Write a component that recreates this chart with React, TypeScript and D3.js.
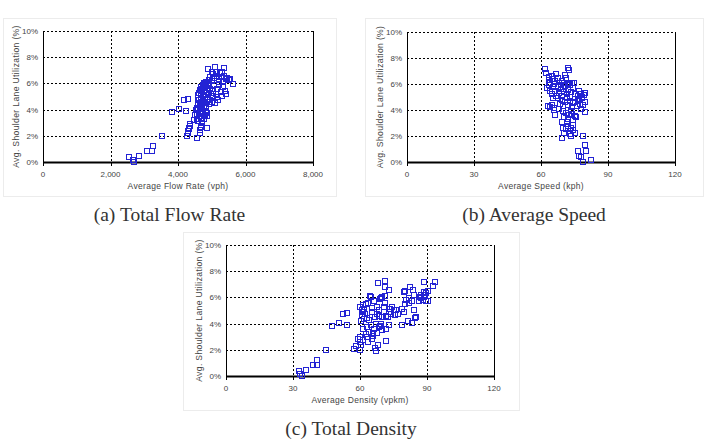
import { useEffect, useRef } from 'react';
import * as d3 from 'd3';

// [average flow rate (vph), shoulder lane utilization (%)]
const flowPoints: [number, number][] = [
  [2554, 0.38], [2673, 0.13], [2703, 0.02], [2851, 0.43], [3079, 0.81], [3218, 0.81], [3257, 1.25],
  [3535, 1.98], [3822, 3.8], [4020, 4.02], [4178, 4.72], [4287, 4.8], [4248, 3.9],
  [4277, 1.98], [4290, 2.2], [4307, 2.35], [4320, 2.5], [4337, 2.62], [4366, 2.88], [4350, 2.75],
  [4574, 1.86], [4653, 2.2], [4683, 2.7], [4660, 2.45], [4851, 2.6], [4700, 2.95], [4460, 3.2],
  [4500, 3.55], [4530, 3.95], [4560, 3.3], [4600, 3.15], [4620, 3.5], [4650, 3.8], [4680, 3.35],
  [4700, 3.65], [4730, 3.9], [4760, 3.25], [4790, 3.6], [4820, 3.85], [4850, 3.5], [4870, 3.75],
  [4600, 3.95], [4560, 3.7], [4720, 3.1],
  [4560, 4.15], [4590, 4.4], [4620, 4.7], [4650, 4.25], [4670, 4.55], [4690, 4.9], [4720, 4.35],
  [4740, 4.65], [4770, 4.1], [4790, 4.5], [4810, 4.8], [4840, 4.3], [4870, 4.6], [4900, 4.95],
  [4930, 4.4], [4960, 4.7], [5000, 4.55], [5050, 4.85], [5099, 4.5], [5198, 4.75], [5150, 4.95],
  [4600, 4.85], [4680, 4.05],
  [4600, 5.1], [4630, 5.3], [4650, 5.5], [4670, 5.75], [4690, 5.2], [4710, 5.45], [4730, 5.9],
  [4750, 5.05], [4770, 5.35], [4790, 5.65], [4810, 5.95], [4830, 5.15], [4860, 5.5], [4880, 5.8],
  [4920, 5.25], [4960, 5.6], [5000, 5.05], [5040, 5.4], [5080, 5.85], [5120, 5.2], [5170, 5.55],
  [5210, 5.9], [5260, 5.35], [5300, 5.05], [5340, 5.7], [5380, 5.45], [5420, 5.2], [4700, 5.6],
  [4760, 5.8],
  [4760, 6.05], [4800, 6.0], [4840, 6.1], [4880, 6.0], [4920, 6.25], [4960, 6.5], [5000, 6.15],
  [5040, 6.75], [5080, 6.4], [5120, 6.9], [5160, 6.6], [5200, 6.3], [5240, 6.8], [5280, 6.5],
  [5330, 6.2], [5370, 6.55], [5410, 6.35], [5450, 6.45], [5500, 6.25], [5545, 6.3], [5644, 5.92],
  [5099, 7.22], [5366, 7.17], [4901, 7.07], [5000, 6.85], [5300, 6.9], [5200, 6.1],
];

// [average speed (kph), shoulder lane utilization (%)]
const speedPoints: [number, number][] = [
  [77.7, 0.38], [82.6, 0.13], [79.0, 0.03], [76.8, 0.45], [76.6, 0.82], [80.2, 0.84], [79.8, 1.27],
  [79.0, 2.0], [69.6, 1.87], [73.5, 2.02], [75.3, 2.2],
  [70.3, 2.25], [71.2, 2.55], [72.0, 2.8], [72.8, 2.35], [73.6, 2.65], [74.4, 2.45], [70.0, 2.65],
  [71.8, 2.95], [73.0, 2.15], [74.2, 2.85],
  [69.5, 3.1], [70.5, 3.45], [71.2, 3.8], [72.0, 3.3], [72.6, 3.6], [73.4, 3.95], [74.2, 3.2],
  [75.0, 3.55], [75.8, 3.45], [71.5, 3.05], [73.8, 3.7], [79.5, 3.86], [65.6, 4.0], [66.3, 3.62],
  [69.8, 3.95],
  [63.1, 4.3], [64.1, 4.2], [64.9, 4.4], [66.0, 4.15], [67.5, 4.9], [68.5, 4.5], [69.2, 4.75],
  [70.0, 4.3], [70.8, 4.6], [71.5, 4.95], [72.2, 4.4], [73.0, 4.7], [73.8, 4.25], [74.5, 4.55],
  [75.3, 4.6], [76.0, 4.3], [76.8, 4.75], [77.5, 4.5], [78.2, 4.9], [79.0, 4.35], [79.5, 4.65],
  [78.0, 4.1], [68.0, 4.05], [65.2, 4.9],
  [62.6, 5.7], [63.5, 5.9], [64.2, 5.5], [64.8, 5.2], [65.5, 5.8], [66.2, 5.45], [66.8, 5.1],
  [67.4, 5.75], [68.2, 5.3], [69.0, 5.6], [69.6, 5.05], [70.2, 5.4], [70.9, 5.85], [71.6, 5.2],
  [72.2, 5.55], [72.9, 5.0], [73.6, 5.35], [74.2, 5.7], [75.0, 5.2], [76.5, 5.05], [77.1, 5.47],
  [77.8, 5.2], [78.5, 5.0], [79.3, 5.15], [79.8, 5.27], [68.8, 5.95], [73.2, 5.9],
  [61.9, 7.19], [62.3, 6.85], [63.4, 6.3], [64.2, 6.1], [64.8, 6.4], [65.6, 6.0], [66.2, 6.25],
  [66.9, 6.8], [67.5, 6.5], [65.0, 6.6], [71.9, 7.24], [72.6, 7.06], [70.5, 6.05], [71.4, 6.45],
  [72.3, 6.0], [73.0, 6.1], [73.8, 6.05], [74.6, 6.1], [69.6, 6.2], [70.8, 6.7], [63.8, 6.55],
];

// [average density (vpkm), shoulder lane utilization (%)]
const densityPoints: [number, number][] = [
  [32.5, 0.36], [33.2, 0.12], [34.0, 0.02], [35.9, 0.43], [38.9, 0.82], [40.7, 0.82], [40.8, 1.25],
  [44.6, 2.0], [47.6, 3.8], [50.5, 4.02], [52.6, 4.72], [54.4, 4.8], [54.1, 3.88],
  [57.5, 2.09], [58.1, 2.27], [59.8, 1.96], [59.3, 2.86], [60.1, 2.6], [60.6, 2.4], [60.2, 2.95],
  [66.8, 2.17], [67.1, 1.89], [68.0, 2.35], [71.5, 2.65], [65.5, 2.8], [63.5, 2.6], [61.5, 2.75],
  [61.5, 3.55], [62.5, 3.2], [63.2, 3.75], [64.0, 3.35], [64.8, 3.9], [65.6, 3.05], [66.3, 3.6],
  [67.0, 3.95], [67.8, 3.3], [68.5, 3.75], [69.2, 3.95], [70.0, 3.5], [71.5, 3.57], [72.8, 3.93],
  [78.6, 3.93], [63.0, 3.0], [66.0, 3.3], [69.0, 3.85],
  [60.3, 4.2], [60.8, 4.55], [61.3, 4.85], [61.8, 4.35], [62.3, 4.7], [63.0, 4.45], [64.0, 4.3],
  [66.5, 4.5], [67.5, 4.75], [68.5, 4.55], [70.0, 4.5], [71.5, 4.55], [72.5, 4.5], [74.0, 4.75],
  [75.5, 4.65], [77.0, 4.7], [79.5, 4.85], [81.7, 4.18], [83.5, 4.02], [84.8, 4.4], [84.9, 4.5],
  [65.2, 4.9], [73.2, 4.9],
  [60.2, 5.25], [60.8, 5.05], [61.4, 5.4], [62.0, 5.15], [62.6, 5.5], [63.5, 5.55], [64.5, 6.1],
  [65.5, 5.2], [66.4, 5.7], [67.4, 5.3], [68.4, 5.05], [68.9, 5.9], [70.0, 6.05], [70.6, 5.3],
  [71.2, 5.6], [73.5, 5.15], [74.3, 5.3], [75.2, 5.05], [76.3, 5.05], [79.0, 5.15], [80.0, 5.5],
  [80.8, 5.8], [82.0, 5.6], [83.5, 5.75], [84.0, 5.05], [86.5, 5.7], [87.2, 5.95], [88.0, 5.8],
  [88.8, 6.0], [89.5, 5.7], [90.6, 5.7], [69.5, 5.95],
  [68.0, 7.1], [71.4, 7.24], [71.4, 6.76], [73.2, 6.56], [79.9, 6.43], [80.3, 6.47], [82.4, 6.81],
  [83.9, 6.6], [88.8, 7.19], [93.6, 7.19], [92.9, 6.86], [86.5, 6.05], [87.5, 6.2], [88.5, 6.4],
  [89.5, 6.3], [90.5, 6.5], [87.0, 6.0], [89.0, 6.15], [84.0, 6.2], [82.0, 5.95], [71.0, 6.1],
  [65.0, 6.0],
];

const flowTicks = [0, 2000, 4000, 6000, 8000];
const speedTicks = [0, 30, 60, 90, 120];
const densityTicks = [0, 30, 60, 90, 120];
const utilTicks = [0, 2, 4, 6, 8, 10];

const yTitle = 'Avg. Shoulder Lane Utilization (%)';

const panels = [
  {
    points: flowPoints, ticks: flowTicks, xTitle: 'Average Flow Rate (vph)', caption: '(a) Total Flow Rate',
    frame: { x: 3, y: 18, w: 333, h: 178 }, plot: { x: 43, y: 31, w: 270, h: 131 }, fmt: d3.format(','),
  },
  {
    points: speedPoints, ticks: speedTicks, xTitle: 'Average Speed (kph)', caption: '(b) Average Speed',
    frame: { x: 365, y: 18, w: 338, h: 178 }, plot: { x: 407, y: 32, w: 268, h: 130 }, fmt: d3.format('d'),
  },
  {
    points: densityPoints, ticks: densityTicks, xTitle: 'Average Density (vpkm)', caption: '(c) Total Density',
    frame: { x: 183, y: 232, w: 336, h: 178 }, plot: { x: 226, y: 245, w: 268, h: 131 }, fmt: d3.format('d'),
  },
];

const App = () => {
  const svgRef = useRef<SVGSVGElement>(null);

  useEffect(() => {
    const svg = d3.select(svgRef.current);
    svg.selectAll('*').remove();

    const axisFont = 'Liberation Sans, Arial, sans-serif';

    panels.forEach((p) => {
      const { frame, plot } = p;
      const g = svg.append('g');

      g.append('rect')
        .attr('x', frame.x + 0.5)
        .attr('y', frame.y + 0.5)
        .attr('width', frame.w)
        .attr('height', frame.h)
        .attr('fill', '#fff')
        .attr('stroke', '#ececec');

      const x = d3.scaleLinear().domain([p.ticks[0], p.ticks[p.ticks.length - 1]]).range([plot.x, plot.x + plot.w]);
      const y = d3.scaleLinear().domain([0, 10]).range([plot.y + plot.h, plot.y]);

      // dotted grid
      g.selectAll('line.hgrid')
        .data(utilTicks.slice(1))
        .enter()
        .append('line')
        .attr('x1', plot.x)
        .attr('x2', plot.x + plot.w)
        .attr('y1', (d) => Math.round(y(d)) + 0.5)
        .attr('y2', (d) => Math.round(y(d)) + 0.5)
        .attr('stroke', '#000')
        .attr('stroke-dasharray', '2,2');

      g.selectAll('line.vgrid')
        .data(p.ticks.slice(1, -1))
        .enter()
        .append('line')
        .attr('x1', (d) => Math.round(x(d)) + 0.5)
        .attr('x2', (d) => Math.round(x(d)) + 0.5)
        .attr('y1', plot.y)
        .attr('y2', plot.y + plot.h)
        .attr('stroke', '#000')
        .attr('stroke-dasharray', '2,2');

      // left and right edges
      [plot.x, plot.x + plot.w].forEach((ex) => {
        g.append('line')
          .attr('x1', ex + 0.5)
          .attr('x2', ex + 0.5)
          .attr('y1', plot.y)
          .attr('y2', plot.y + plot.h)
          .attr('stroke', '#000');
      });

      // x axis
      g.append('line')
        .attr('x1', plot.x)
        .attr('x2', plot.x + plot.w + 1)
        .attr('y1', plot.y + plot.h + 0.5)
        .attr('y2', plot.y + plot.h + 0.5)
        .attr('stroke', '#000')
        .attr('stroke-width', 2);

      g.selectAll('line.xtick')
        .data(p.ticks)
        .enter()
        .append('line')
        .attr('x1', (d) => Math.round(x(d)) + 0.5)
        .attr('x2', (d) => Math.round(x(d)) + 0.5)
        .attr('y1', plot.y + plot.h)
        .attr('y2', plot.y + plot.h + 4)
        .attr('stroke', '#000');

      g.selectAll('text.xtick')
        .data(p.ticks)
        .enter()
        .append('text')
        .attr('x', (d) => x(d))
        .attr('y', plot.y + plot.h + 15)
        .attr('text-anchor', 'middle')
        .style('font-family', axisFont)
        .style('font-size', '8px')
        .style('fill', '#444')
        .text((d) => p.fmt(d));

      g.selectAll('text.ytick')
        .data(utilTicks)
        .enter()
        .append('text')
        .attr('x', plot.x - 5)
        .attr('y', (d) => y(d) + 3)
        .attr('text-anchor', 'end')
        .style('font-family', axisFont)
        .style('font-size', '8px')
        .style('fill', '#444')
        .text((d) => `${d}%`);

      g.append('text')
        .attr('x', plot.x + plot.w / 2)
        .attr('y', plot.y + plot.h + 27)
        .attr('text-anchor', 'middle')
        .style('font-family', axisFont)
        .style('font-size', '8.5px')
        .style('letter-spacing', '0.3px')
        .style('fill', '#444')
        .text(p.xTitle);

      g.append('text')
        .attr('transform', `translate(${plot.x - 24},${plot.y + plot.h / 2}) rotate(-90)`)
        .attr('text-anchor', 'middle')
        .style('font-family', axisFont)
        .style('font-size', '8.6px')
        .style('letter-spacing', '0.35px')
        .style('fill', '#444')
        .text(yTitle);

      // open square markers
      g.selectAll('rect.pt')
        .data(p.points)
        .enter()
        .append('rect')
        .attr('x', (d) => Math.round(x(d[0])) - 2.5)
        .attr('y', (d) => Math.round(y(d[1])) - 2.5)
        .attr('width', 5)
        .attr('height', 5)
        .attr('fill', 'none')
        .attr('stroke', '#2323d4')
        .attr('stroke-width', 1);

      svg.append('text')
        .attr('x', frame.x + frame.w / 2)
        .attr('y', frame.y + frame.h + 25)
        .attr('text-anchor', 'middle')
        .style('font-family', 'Liberation Serif, serif')
        .style('font-size', '19.5px')
        .style('fill', '#333')
        .text(p.caption);
    });
  }, []);

  return (
    <div style={{ position: 'fixed', left: 0, top: 0 }}>
      <svg ref={svgRef} width={706} height={448} style={{ display: 'block', background: '#fff' }}></svg>
    </div>
  );
};

export default App;
